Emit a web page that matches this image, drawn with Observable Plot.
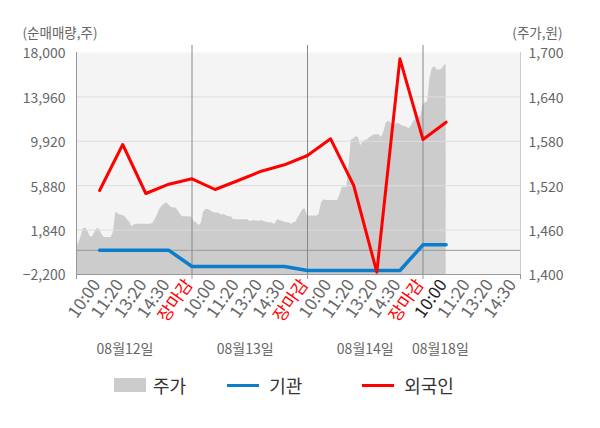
<!DOCTYPE html>
<html>
<head>
<meta charset="utf-8">
<script src="https://cdn.jsdelivr.net/npm/d3@7"></script>
<script src="https://cdn.jsdelivr.net/npm/@observablehq/plot@0.6"></script>
<style>
  body { margin: 0; background: #fff; font-family: "Noto Sans CJK KR", "Noto Sans", sans-serif; }
  #legend { height: 60px; display: flex; align-items: center; padding-left: 114px; box-sizing: border-box; padding-bottom: 26px; font-size: 18px; color: #333; }
  .item { display: flex; align-items: center; }
  .sw { display: inline-block; width: 32px; }
</style>
</head>
<body>
<div id="chart"></div>
<div id="legend">
  <div class="item"><span class="sw" style="height:14px;background:#cccccc"></span><span style="margin-left:7px">주가</span></div>
  <div class="item" style="margin-left:41px"><span class="sw" style="height:3px;background:#0a7dcc"></span><span style="margin-left:10px">기관</span></div>
  <div class="item" style="margin-left:60px"><span class="sw" style="height:3px;background:#ff0000"></span><span style="margin-left:10px">외국인</span></div>
</div>
<script>
// ---- data ----
const days = ["08월12일", "08월13일", "08월14일", "08월18일"];
const dateLabelSlot = [2.1, 7.3, 12.5, 15.75];
const timeLabels = ["10:00", "11:20", "13:20", "14:30", "장마감"];
const lastDayLabels = ["10:00", "11:20", "13:20", "14:30"];

// net buying (shares), one point per time slot (slot 1..16)
const foreignNet = [5443, 9629, 5170, 6017, 6508, 5534, 6354, 7200, 7783, 8629, 10147, 5898, -1991, 17426, 10084, 11658];
const institutionNet = [0, 0, 0, 0, -1470, -1470, -1470, -1470, -1470, -1836, -1836, -1836, -1836, -1836, 500, 500];

// intraday share price (won), evenly sampled within each session
const priceDay1 = [1437,1443,1451,1462,1463,1458,1451,1451,1457,1462,1461,1454,1450,1450,1450,1450,1457,1484,1482,1480,1480,1478,1474,1471,1465,1467,1468,1468,1468,1468,1468,1468,1468,1469,1474,1480,1488,1492,1495,1497,1494,1491,1490,1490,1486,1481,1478,1478,1478,1478];
const priceDay2 = [1477,1471,1470,1466,1469,1484,1488,1488,1486,1484,1483,1483,1482,1480,1481,1479,1478,1478,1474,1474,1474,1474,1474,1474,1474,1472,1472,1473,1472,1472,1473,1472,1471,1470,1470,1469,1468,1474,1473,1472,1471,1470,1470,1468,1470,1471,1477,1482,1488,1489];
const priceDay3 = [1479,1479,1479,1479,1479,1481,1496,1501,1500,1500,1500,1500,1500,1500,1507,1518,1518,1518,1547,1582,1583,1586,1585,1574,1579,1581,1582,1585,1587,1589,1589,1589,1585,1592,1604,1607,1605,1601,1603,1604,1603,1601,1600,1599,1597,1601,1607,1610,1613,1613];
const priceDay4 = [1629,1632,1633,1665,1678,1681,1677,1676,1677,1681,1685];

const leftTicks = [-2200, 1840, 5880, 9920, 13960, 18000];
const rightTicks = [1400, 1460, 1520, 1580, 1640, 1700];

// ---- derived tables ----
const slotsPerDay = 5;
const samplesPerSlot = 10;
const xMax = 19.22;
const yMin = -2200, yMax = 18000;
const pMin = 1400, pMax = 1700;
const priceToY = p => yMin + (p - pMin) / (pMax - pMin) * (yMax - yMin);
const yToPrice = v => pMin + (v - yMin) / (yMax - yMin) * (pMax - pMin);

const priceData = [priceDay1, priceDay2, priceDay3, priceDay4].flatMap((arr, d) =>
  arr.map((p, i) => ({ x: d * slotsPerDay + i / samplesPerSlot, price: p })));

const foreignData = foreignNet.map((v, i) => ({ x: i + 1, v }));
const instData = institutionNet.map((v, i) => ({ x: i + 1, v }));

const tickLabels = [];
days.forEach((d, di) => {
  const labs = di < 3 ? timeLabels : lastDayLabels;
  labs.forEach((t, ti) => {
    let color = "#666";
    if (t === "장마감") color = "#ff0000";
    if (di === 3 && ti === 0) color = "#222";
    tickLabels.push({ x: di * slotsPerDay + ti + 1, label: t, color });
  });
});
const dayBounds = [5, 10, 15];
const dateLabels = days.map((d, i) => ({ x: dateLabelSlot[i], label: d }));

const H = 368;
const chart = Plot.plot({
  width: 600,
  height: H,
  marginLeft: 76,
  marginRight: 80,
  marginTop: 52,
  marginBottom: H - 274,
  style: { fontFamily: "'Noto Sans CJK KR', 'Noto Sans', sans-serif", fontSize: "14px", background: "#fff", overflow: "visible" },
  x: { domain: [0, xMax] },
  y: { domain: [yMin, yMax] },
  color: { type: "identity" },
  marks: [
    Plot.frame({ fill: "#f4f4f4", stroke: "none" }),
    Plot.areaY(priceData, { x: "x", y1: yMin, y2: d => priceToY(d.price), fill: "#cccccc" }),
    Plot.ruleY(leftTicks.slice(1, -1), { stroke: "#dddddd", strokeWidth: 1 }),
    Plot.ruleY([0], { stroke: "#999", strokeWidth: 1 }),
    Plot.ruleX(dayBounds, { stroke: "#888", strokeWidth: 1, insetTop: -7 }),
    Plot.ruleX([0], { stroke: "#999" }),
    Plot.ruleX([xMax], { stroke: "#ccc" }),
    Plot.ruleY([yMin], { stroke: "#999" }),
    Plot.axisX({ ticks: [0, ...dayBounds, xMax], tickSize: 5, tickFormat: () => "", stroke: "#999", label: null }),
    Plot.line(instData, { x: "x", y: "v", stroke: "#0a7dcc", strokeWidth: 3.5 }),
    Plot.line(foreignData, { x: "x", y: "v", stroke: "#ff0000", strokeWidth: 3 }),
    Plot.axisY({ anchor: "left", ticks: leftTicks, tickSize: 0, tickPadding: 11, tickFormat: d3.format(","), fontSize: 14, color: "#666", label: null, dy: 1.5 }),
    Plot.axisY({ anchor: "right", ticks: leftTicks, tickSize: 0, tickPadding: 8, tickFormat: v => d3.format(",")(Math.round(yToPrice(v))), fontSize: 14, color: "#666", label: null, dy: 1.5 }),
    Plot.text(tickLabels, { x: "x", frameAnchor: "bottom", text: "label", fill: "color", rotate: -55, textAnchor: "end", dy: 10, dx: 1.5, fontSize: 17 }),
    Plot.text(dateLabels, { x: "x", frameAnchor: "bottom", text: "label", fill: "#666", dy: 79, fontSize: 14 }),
    Plot.text(["(순매매량,주)"], { frameAnchor: "top-left", textAnchor: "start", lineAnchor: "middle", dx: -54, dy: -19, fill: "#666", fontSize: 13.5 }),
    Plot.text(["(주가,원)"], { frameAnchor: "top-right", textAnchor: "end", lineAnchor: "middle", dx: 42, dy: -19, fill: "#666", fontSize: 13.5 })
  ]
});
document.getElementById("chart").appendChild(chart);
</script>
</body>
</html>
